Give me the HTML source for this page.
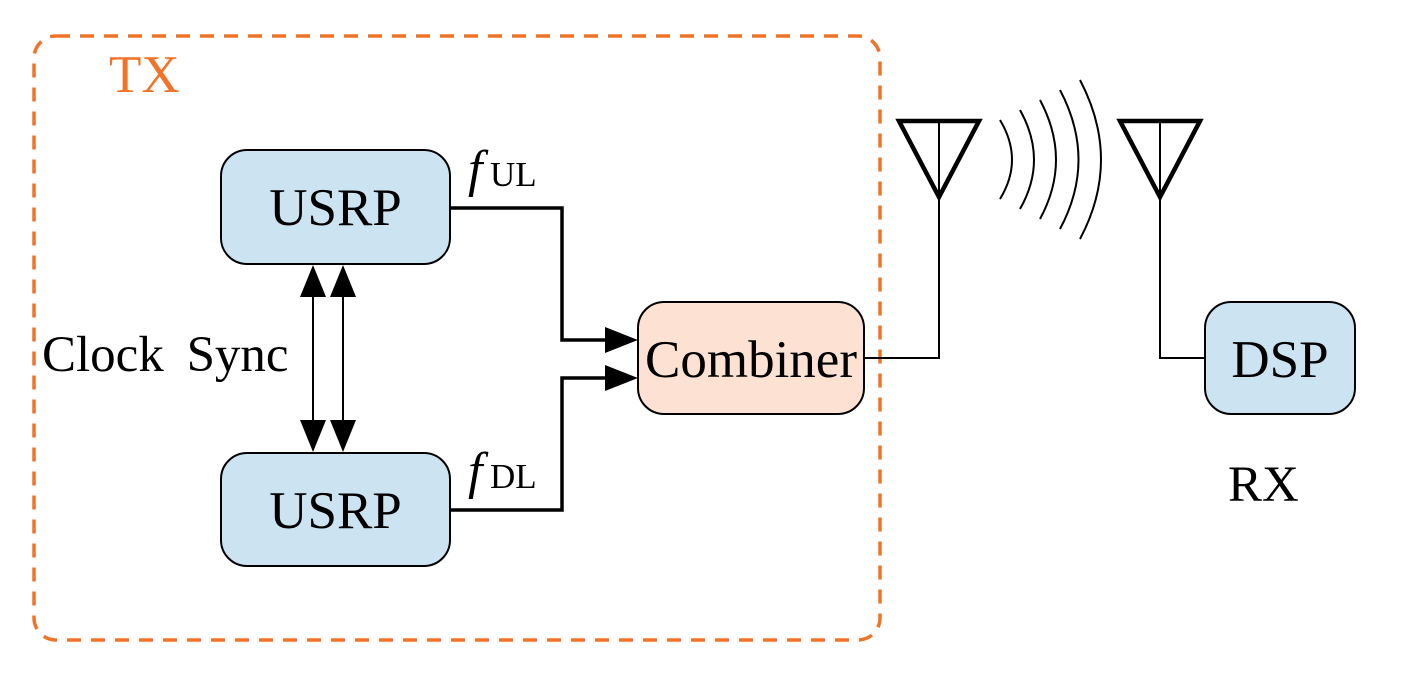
<!DOCTYPE html>
<html><head><meta charset="utf-8"><style>
html,body{margin:0;padding:0;background:#fff;}
svg{display:block;}
text{font-family:"Liberation Serif",serif;}
</style></head><body>
<svg width="1424" height="678" viewBox="0 0 1424 678" xmlns="http://www.w3.org/2000/svg">
<rect x="34" y="36" width="846" height="604" rx="22" fill="none" stroke="#f07328" stroke-width="3.5" stroke-dasharray="14,10"/>
<text x="109" y="92" font-size="53" fill="#f07328">TX</text>

<rect x="221" y="150" width="229" height="114" rx="26" fill="#cce3f2" stroke="#000" stroke-width="2"/>
<text x="335.5" y="225" font-size="53" text-anchor="middle">USRP</text>
<rect x="221" y="453" width="229" height="113" rx="26" fill="#cce3f2" stroke="#000" stroke-width="2"/>
<text x="335.5" y="528" font-size="53" text-anchor="middle">USRP</text>
<rect x="638" y="302" width="226" height="112" rx="26" fill="#fde1d3" stroke="#000" stroke-width="2"/>
<text x="751" y="377" font-size="53" text-anchor="middle">Combiner</text>
<rect x="1205" y="302" width="150" height="112" rx="26" fill="#cce3f2" stroke="#000" stroke-width="2"/>
<text x="1280" y="377" font-size="53" text-anchor="middle">DSP</text>

<text x="42" y="371" font-size="51" word-spacing="10">Clock Sync</text>
<text x="1228" y="501" font-size="51">RX</text>

<text x="468" y="186" font-size="52" font-style="italic">f</text>
<text x="490" y="186" font-size="35">UL</text>
<text x="468" y="488" font-size="52" font-style="italic">f</text>
<text x="490" y="488" font-size="35">DL</text>

<g stroke="#000" stroke-width="2">
<line x1="313" y1="295" x2="313" y2="422"/>
<line x1="343" y1="295" x2="343" y2="422"/>
</g>
<g fill="#000">
<polygon points="313,265 300,297 326,297"/>
<polygon points="343,265 330,297 356,297"/>
<polygon points="313,452 300,420 326,420"/>
<polygon points="343,452 330,420 356,420"/>
</g>

<polyline points="450,208 562,208 562,340 610,340" fill="none" stroke="#000" stroke-width="3.5"/>
<polyline points="450,510 562,510 562,378 610,378" fill="none" stroke="#000" stroke-width="3.5"/>
<polygon points="638,340 605,327 605,353" fill="#000"/>
<polygon points="638,378 605,365 605,391" fill="#000"/>

<polyline points="864,358 939,358 939,121" fill="none" stroke="#000" stroke-width="2"/>
<polygon points="899,121 979,121 939,197" fill="none" stroke="#000" stroke-width="4.5"/>
<polyline points="1205,358 1160,358 1160,121" fill="none" stroke="#000" stroke-width="2"/>
<polygon points="1120,121 1200,121 1160,197" fill="none" stroke="#000" stroke-width="4.5"/>

<g fill="none" stroke="#000" stroke-width="2">
<path d="M1000,120 Q1024,160 1000,199"/>
<path d="M1020,110 Q1048,160 1020,209"/>
<path d="M1040,100 Q1072,160 1040,219"/>
<path d="M1060,90 Q1097,160 1060,229"/>
<path d="M1080,80 Q1122,160 1080,239"/>
</g>
</svg>
</body></html>
